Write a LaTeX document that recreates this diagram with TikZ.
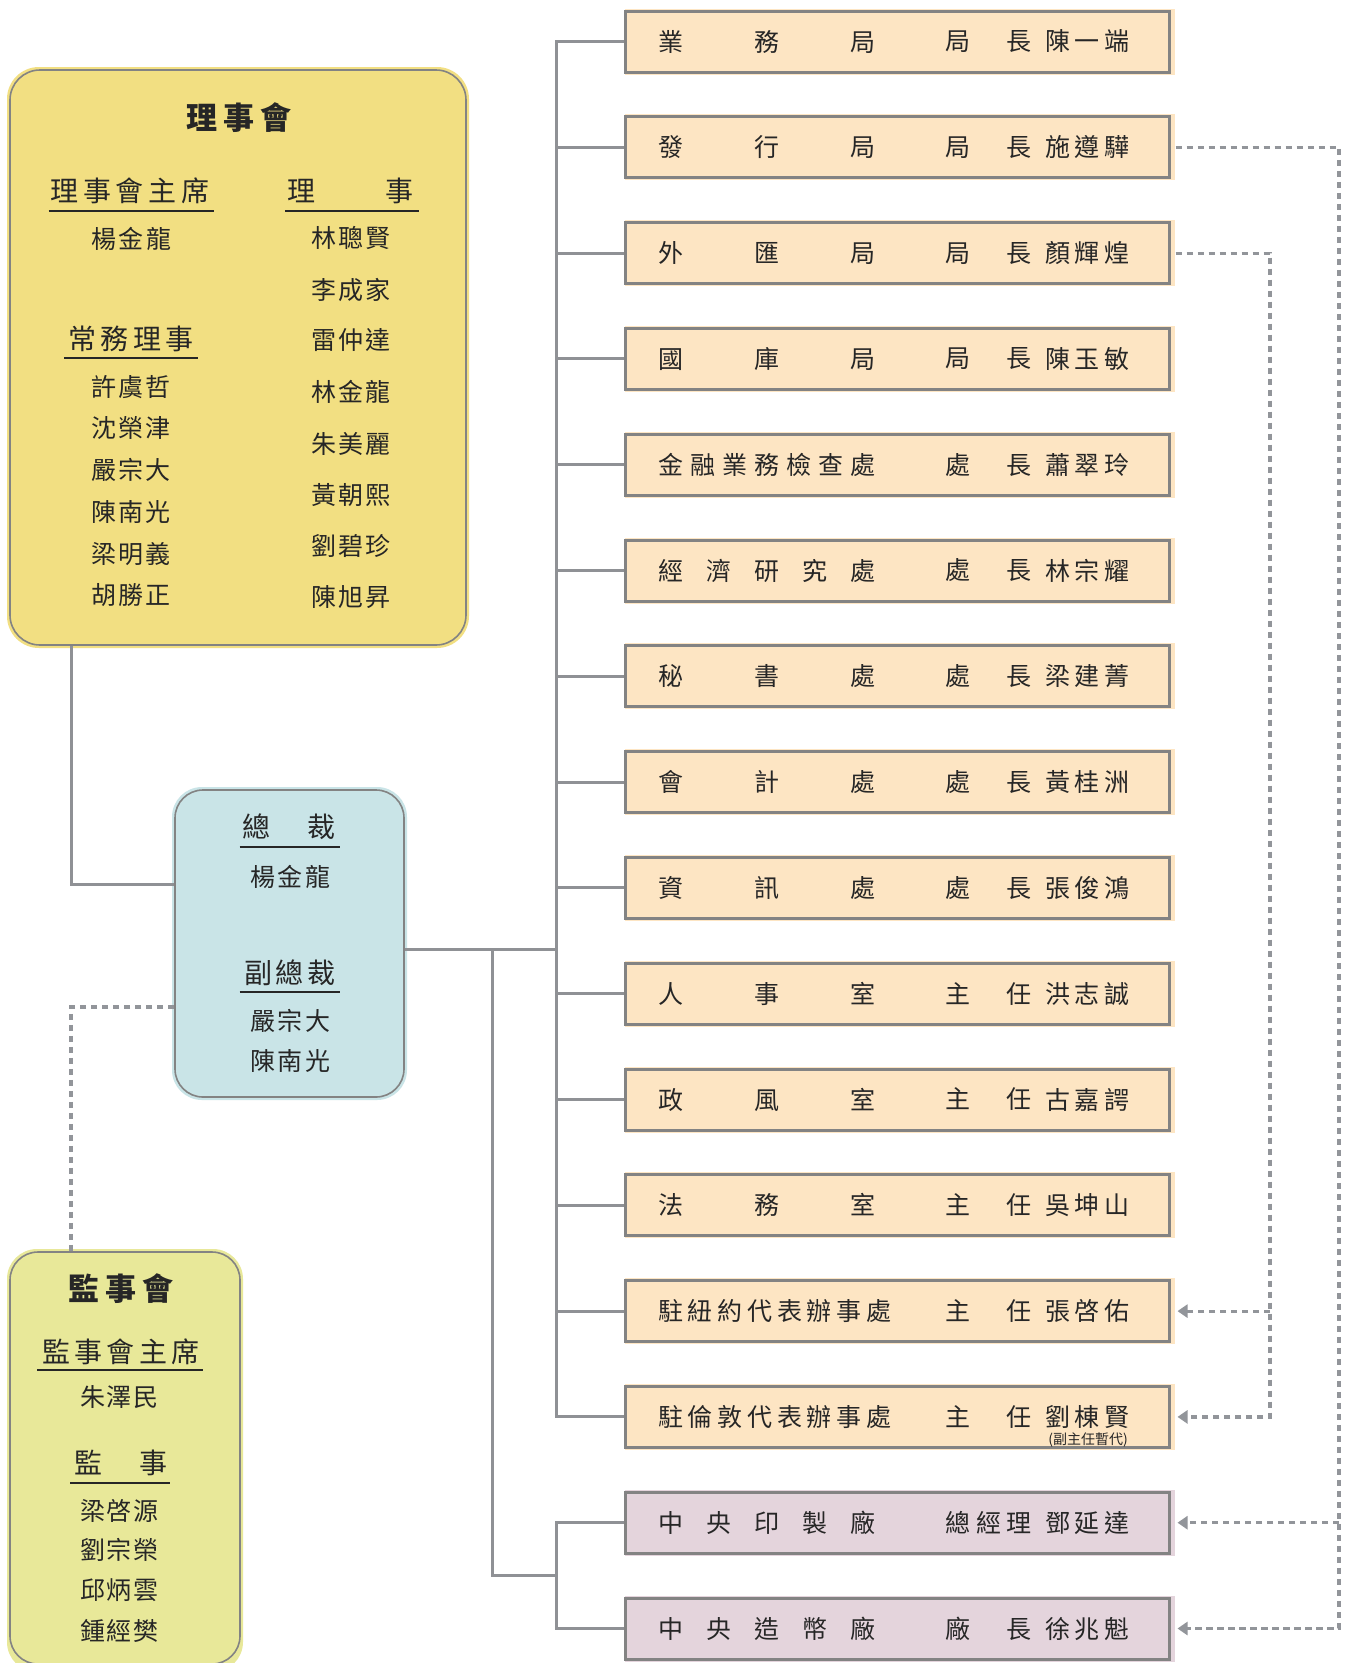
\documentclass[tikz,border=0pt]{standalone}
\usepackage{fontspec}
\newfontfamily\cjk{Noto Sans CJK TC}
\usetikzlibrary{arrows.meta,calc}
\definecolor{boardY}{HTML}{F2DF82}
\definecolor{presC}{HTML}{C9E4E7}
\definecolor{supY}{HTML}{E8E899}
\definecolor{deptO}{HTML}{FDE5C3}
\definecolor{factP}{HTML}{E4D4DC}
\definecolor{bord}{HTML}{838383}
\definecolor{lineG}{HTML}{8F9195}
\definecolor{dashG}{HTML}{92959A}
\definecolor{txt}{HTML}{262626}
\def\zzspA#1{#1\zzspB}
\def\zzspB#1{\ifx\relax#1\else\hfill#1\expandafter\zzspB\fi}
\newcommand\spr[2]{\makebox[#1pt][s]{\zzspA#2\relax}}
\tikzset{
  rbox/.style={draw=bord, line width=3pt, minimum width=544pt, minimum height=61pt, inner sep=0pt},
  rtext/.style={inner sep=0pt, text=txt, font=\cjk\fontsize{25}{25}\selectfont},
  ltext/.style={inner sep=0pt, text=txt, font=\cjk\fontsize{25}{25}\selectfont},
  lhead/.style={inner sep=0pt, text=txt, font=\cjk\fontsize{28}{28}\selectfont},
  ltitle/.style={inner sep=0pt, text=txt, font=\cjk\bfseries\fontsize{31}{31}\selectfont},
  uline/.style={draw=txt, line width=1.4pt},
  conn/.style={draw=lineG, line width=3pt},
  dashline/.style={draw=dashG, line width=3.2pt, dash pattern=on 6.5pt off 4.5pt},
  arr/.style={-{Triangle[length=10pt,width=13pt]}, shorten >=7pt},
  rbig/.style={draw=bord, line width=1.6pt, inner sep=0pt}
}
\newcommand\drow[7]{%
  \fill[#3] (625,{#2-33}) rectangle (1175,{#2+33});
  \node[rbox, fill=#3] (#1) at (897,#2) {};
  \node[rtext, anchor=west] (#1d) at (658,#2) {\spr{#5}{#4}};
  \node[rtext] (#1t) at (988.5,#2) {\spr{86}{#6}};
  \node[rtext] (#1p) at (1087,#2) {\spr{84}{#7}};
}
\begin{document}
\begin{tikzpicture}[x=1pt,y=-1pt]
\useasboundingbox[fill=white] (0,0) rectangle (1353,1663);

% ---- left boxes ----
\fill[boardY, rounded corners=32pt] (7,67) rectangle (469,648);
\node[rbig, fill=boardY, rounded corners=30pt, minimum width=456pt, minimum height=575pt] (board) at (238,357.5) {};
\fill[presC, rounded corners=30pt] (172,787) rectangle (407,1100);
\node[rbig, fill=presC, rounded corners=28pt, minimum width=229pt, minimum height=307pt] (pres) at (289.5,943.5) {};
\fill[supY, rounded corners=30pt] (7,1249) rectangle (243,1672);
\node[rbig, fill=supY, rounded corners=28pt, minimum width=230pt, minimum height=412pt] (sup) at (125,1458) {};

% board texts
\node[ltitle] (bT) at (239,118) {\spr{105}{理事會}};
\node[lhead] (bCH) at (130,191) {\spr{159}{理事會主席}};
\draw[uline] (48.5,211) -- (214,211);
\node[lhead] (bDH) at (350.5,191) {\spr{127}{理事}};
\draw[uline] (285,211) -- (419,211);
\node[ltext] (bC) at (131,239) {\spr{80}{楊金龍}};
\node[lhead] (bEH) at (131,339) {\spr{125}{常務理事}};
\draw[uline] (64,358) -- (198,358);
\node[ltext] (e1) at (131,387) {\spr{79}{許虞哲}};
\node[ltext] (e2) at (131,428) {\spr{79}{沈榮津}};
\node[ltext] (e3) at (131,470) {\spr{79}{嚴宗大}};
\node[ltext] (e4) at (131,512) {\spr{79}{陳南光}};
\node[ltext] (e5) at (131,554.5) {\spr{79}{梁明義}};
\node[ltext] (e6) at (131,595.5) {\spr{79}{胡勝正}};
\node[ltext] (d1) at (350.5,238) {\spr{79}{林聰賢}};
\node[ltext] (d2) at (350.5,290) {\spr{79}{李成家}};
\node[ltext] (d3) at (350.5,340.5) {\spr{79}{雷仲達}};
\node[ltext] (d4) at (350.5,392) {\spr{79}{林金龍}};
\node[ltext] (d5) at (350.5,444) {\spr{79}{朱美麗}};
\node[ltext] (d6) at (350.5,495) {\spr{79}{黃朝熙}};
\node[ltext] (d7) at (350.5,546) {\spr{79}{劉碧珍}};
\node[ltext] (d8) at (350.5,597) {\spr{79}{陳旭昇}};

% president texts
\node[lhead] (pH) at (289,827) {\spr{94}{總裁}};
\draw[uline] (239.5,847) -- (340,847);
\node[ltext] (pN) at (290,877) {\spr{80}{楊金龍}};
\node[lhead] (vH) at (290,973) {\spr{92}{副總裁}};
\draw[uline] (239.5,992) -- (340,992);
\node[ltext] (v1) at (290,1020.5) {\spr{80}{嚴宗大}};
\node[ltext] (v2) at (290,1061) {\spr{80}{陳南光}};

% supervisors texts
\node[ltitle] (sT) at (121,1289) {\spr{105}{監事會}};
\node[lhead] (sCH) at (121,1352) {\spr{158}{監事會主席}};
\draw[uline] (37,1370) -- (203,1370);
\node[ltext] (sC) at (119,1397) {\spr{78}{朱澤民}};
\node[lhead] (sMH) at (121,1463) {\spr{94}{監事}};
\draw[uline] (70,1483) -- (170,1483);
\node[ltext] (s1) at (119,1511) {\spr{78}{梁啓源}};
\node[ltext] (s2) at (119,1550) {\spr{78}{劉宗榮}};
\node[ltext] (s3) at (119,1590) {\spr{78}{邱炳雲}};
\node[ltext] (s4) at (119,1631) {\spr{78}{鍾經樊}};

% ---- right boxes ----
\drow{r0}{41.5}{deptO}{業務局}{217}{局長}{陳一端}
\drow{r1}{147.3}{deptO}{發行局}{217}{局長}{施遵驊}
\drow{r2}{253.1}{deptO}{外匯局}{217}{局長}{顏輝煌}
\drow{r3}{358.9}{deptO}{國庫局}{217}{局長}{陳玉敏}
\drow{r4}{464.7}{deptO}{金融業務檢查處}{217}{處長}{蕭翠玲}
\drow{r5}{570.5}{deptO}{經濟研究處}{217}{處長}{林宗耀}
\drow{r6}{676.3}{deptO}{秘書處}{217}{處長}{梁建菁}
\drow{r7}{782.1}{deptO}{會計處}{217}{處長}{黃桂洲}
\drow{r8}{887.9}{deptO}{資訊處}{217}{處長}{張俊鴻}
\drow{r9}{993.7}{deptO}{人事室}{217}{主任}{洪志誠}
\drow{r10}{1099.5}{deptO}{政風室}{217}{主任}{古嘉諤}
\drow{r11}{1205.3}{deptO}{法務室}{217}{主任}{吳坤山}
\drow{r12}{1311.1}{deptO}{駐紐約代表辦事處}{233}{主任}{張啓佑}
\drow{r13}{1416.9}{deptO}{駐倫敦代表辦事處}{233}{主任}{劉棟賢}
\drow{r14}{1522.7}{factP}{中央印製廠}{217}{總經理}{鄧延達}
\drow{r15}{1628.5}{factP}{中央造幣廠}{217}{廠長}{徐兆魁}
\node[inner sep=0pt, text=txt, font=\cjk\fontsize{14}{14}\selectfont] (r13n) at (1088,1440) {(副主任暫代)};

% ---- connectors ----
\coordinate (tk) at (556,0);
\coordinate (bk) at (492,0);
\coordinate (bd) at (71,0);
\coordinate (pe) at ($(pres.east)+(0,5.5)$);
\coordinate (fm) at ($(r14.west)!0.5!(r15.west)$);
\draw[conn] (r0.west) -| (tk |- r13.west) -- (r13.west);
\foreach \k in {1,...,12} { \draw[conn] (tk |- r\k.west) -- (r\k.west); }
\draw[conn] (pe) -- (tk |- pe);
\draw[conn] (bk |- pe) |- (tk |- fm);
\draw[conn] (r14.west) -| (tk |- r15.west) -- (r15.west);
\draw[conn] (bd |- board.south) |- ($(pres.west)+(0,-59.5)$);
\draw[dashline] ($(pres.west)+(0,63.5)$) -| (bd |- sup.north);

\coordinate (ox) at (1339,0);
\coordinate (ix) at (1270,0);
\draw[dashline, arr] ($(r1.east)+(5,0)$) -| (ox |- r15.east) -- (r15.east);
\draw[dashline, arr] (ox |- r14.east) -- (r14.east);
\draw[dashline, arr] ($(r2.east)+(5,0)$) -| (ix |- r13.east) -- (r13.east);
\draw[dashline, arr] (ix |- r12.east) -- (r12.east);
\end{tikzpicture}
\end{document}
